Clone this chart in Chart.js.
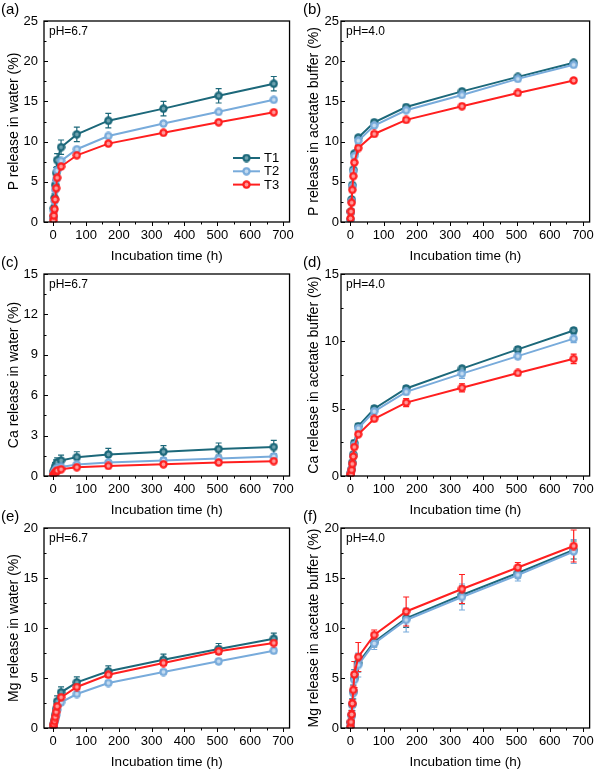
<!DOCTYPE html>
<html>
<head>
<meta charset="utf-8">
<script src="https://cdn.jsdelivr.net/npm/chart.js@4.4.0/dist/chart.umd.min.js"></script>
<style>
  body { margin:0; background:#fff; width:600px; height:773px; position:relative; overflow:hidden; }
  canvas { position:absolute; }
</style>
</head>
<body>
<script>
// sampling times (h)
var times = [0.5, 2, 4, 6, 9, 12, 24, 72, 168, 336, 504, 672];
var xTicks = [0, 100, 200, 300, 400, 500, 600, 700];
var seriesNames = ['T1', 'T2', 'T3'];

// (a) P release in water
var pWaterT1 = [0.6, 1.7, 3.0, 4.6, 6.1, 7.7, 9.3, 10.9, 12.6, 14.1, 15.7, 17.2];
var pWaterT2 = [0.5, 1.4, 2.6, 4.0, 5.3, 6.4, 7.6, 9.05, 10.7, 12.25, 13.7, 15.2];
var pWaterT3 = [0.2, 0.8, 1.6, 2.8, 4.2, 5.5, 6.9, 8.3, 9.75, 11.1, 12.4, 13.65];
var pWaterErrT1 = [0.3, 0.4, 0.5, 0.6, 0.7, 0.8, 0.9, 0.9, 0.9, 0.9, 0.9, 0.9];
var pWaterErrT2 = [0.2, 0.2, 0.2, 0.2, 0.2, 0.2, 0.2, 0.2, 0.2, 0.2, 0.2, 0.2];
var pWaterErrT3 = [0.2, 0.2, 0.2, 0.2, 0.2, 0.2, 0.2, 0.2, 0.2, 0.2, 0.2, 0.2];

// (b) P release in acetate buffer
var pAcetT1 = [0.3, 1.3, 2.8, 4.6, 6.5, 8.5, 10.5, 12.4, 14.3, 16.25, 18.05, 19.8];
var pAcetT2 = [0.25, 1.2, 2.6, 4.4, 6.3, 8.2, 10.1, 12.0, 13.9, 15.8, 17.8, 19.55];
var pAcetT3 = [0.45, 1.3, 2.4, 4.0, 5.7, 7.4, 9.2, 10.95, 12.7, 14.4, 16.05, 17.6];
var pAcetErrT1 = [0.2, 0.2, 0.2, 0.2, 0.2, 0.2, 0.25, 0.25, 0.25, 0.25, 0.25, 0.25];
var pAcetErrT2 = [0.2, 0.2, 0.2, 0.2, 0.2, 0.2, 0.25, 0.25, 0.25, 0.25, 0.25, 0.25];
var pAcetErrT3 = [0.2, 0.2, 0.2, 0.2, 0.2, 0.2, 0.25, 0.25, 0.25, 0.25, 0.25, 0.25];

// (c) Ca release in water
var caWaterT1 = [0.2, 0.35, 0.5, 0.7, 0.85, 1.0, 1.15, 1.4, 1.6, 1.8, 2.0, 2.15];
var caWaterT2 = [0.1, 0.2, 0.3, 0.4, 0.5, 0.6, 0.67, 0.85, 1.0, 1.15, 1.3, 1.45];
var caWaterT3 = [0.05, 0.1, 0.15, 0.25, 0.3, 0.4, 0.5, 0.65, 0.75, 0.87, 1.0, 1.1];
var caWaterErrT1 = [0.2, 0.25, 0.3, 0.3, 0.35, 0.35, 0.4, 0.4, 0.45, 0.45, 0.45, 0.5];
var caWaterErrT2 = [0.1, 0.1, 0.1, 0.1, 0.15, 0.15, 0.15, 0.15, 0.15, 0.15, 0.15, 0.15];
var caWaterErrT3 = [0.1, 0.1, 0.1, 0.1, 0.1, 0.1, 0.1, 0.1, 0.1, 0.1, 0.1, 0.1];

// (d) Ca release in acetate buffer
var caAcetT1 = [0.05, 0.2, 0.5, 1.0, 1.6, 2.45, 3.7, 5.0, 6.5, 7.97, 9.4, 10.8];
var caAcetT2 = [0.05, 0.2, 0.5, 0.9, 1.5, 2.3, 3.55, 4.8, 6.25, 7.6, 8.9, 10.2];
var caAcetT3 = [0.05, 0.15, 0.45, 0.9, 1.45, 2.15, 3.1, 4.25, 5.45, 6.55, 7.65, 8.7];
var caAcetErrT1 = [0.15, 0.15, 0.15, 0.15, 0.15, 0.2, 0.2, 0.2, 0.2, 0.2, 0.2, 0.2];
var caAcetErrT2 = [0.15, 0.15, 0.15, 0.15, 0.15, 0.2, 0.2, 0.2, 0.2, 0.35, 0.2, 0.3];
var caAcetErrT3 = [0.15, 0.15, 0.15, 0.15, 0.15, 0.15, 0.15, 0.15, 0.3, 0.3, 0.15, 0.35];

// (e) Mg release in water
var mgWaterT1 = [0.1, 0.4, 0.8, 1.3, 1.9, 2.67, 3.57, 4.57, 5.67, 6.83, 7.9, 8.93];
var mgWaterT2 = [0.1, 0.3, 0.55, 0.9, 1.3, 1.83, 2.57, 3.4, 4.5, 5.6, 6.67, 7.73];
var mgWaterT3 = [0.1, 0.35, 0.7, 1.1, 1.6, 2.17, 3.07, 4.1, 5.33, 6.5, 7.67, 8.5];
var mgWaterErrT1 = [0.3, 0.3, 0.4, 0.4, 0.5, 0.55, 0.55, 0.55, 0.55, 0.55, 0.55, 0.55];
var mgWaterErrT2 = [0.2, 0.2, 0.2, 0.2, 0.25, 0.25, 0.25, 0.25, 0.25, 0.25, 0.25, 0.25];
var mgWaterErrT3 = [0.2, 0.2, 0.2, 0.2, 0.25, 0.25, 0.25, 0.25, 0.25, 0.25, 0.25, 0.25];

// (f) Mg release in acetate buffer
var mgAcetT1 = [0.1, 0.55, 1.27, 2.35, 3.6, 4.95, 6.5, 8.6, 10.97, 13.3, 15.5, 17.8];
var mgAcetT2 = [0.1, 0.5, 1.2, 2.3, 3.5, 4.8, 6.3, 8.45, 10.8, 13.1, 15.3, 17.65];
var mgAcetT3 = [0.1, 0.6, 1.35, 2.45, 3.8, 5.35, 7.1, 9.3, 11.65, 13.9, 16.05, 18.2];
var mgAcetErrT1 = [0.3, 0.4, 0.5, 0.6, 0.7, 0.9, 0.9, 0.5, 0.9, 0.9, 0.5, 0.9];
var mgAcetErrT2 = [0.3, 0.4, 0.5, 0.6, 0.8, 1.0, 1.2, 0.6, 1.2, 1.3, 0.6, 1.2];
var mgAcetErrT3 = [0.4, 0.4, 0.4, 0.4, 0.4, 1.3, 1.45, 0.5, 1.45, 1.45, 0.5, 1.6];

var colors = ['#1c687a', '#78abdb', '#ff1f1f'];
var lights = ['#6fa3b0', '#c4dbf1', '#ff9a9a'];
var FONT = "'Liberation Sans', Arial, sans-serif";

// panel layout: column, plot top/bottom (page px)
var panels = [
  {tag:'(a)', col:0, top:21, bottom:222, ymax:25, ystep:5, ph:'pH=6.7', ytitle:'P release in water (%)',
   vals:[pWaterT1, pWaterT2, pWaterT3], errs:[pWaterErrT1, pWaterErrT2, pWaterErrT3], legend:true},
  {tag:'(b)', col:1, top:21, bottom:222, ymax:25, ystep:5, ph:'pH=4.0', ytitle:'P release in acetate buffer (%)',
   vals:[pAcetT1, pAcetT2, pAcetT3], errs:[pAcetErrT1, pAcetErrT2, pAcetErrT3]},
  {tag:'(c)', col:0, top:274, bottom:476, ymax:15, ystep:3, ph:'pH=6.7', ytitle:'Ca release in water (%)',
   vals:[caWaterT1, caWaterT2, caWaterT3], errs:[caWaterErrT1, caWaterErrT2, caWaterErrT3]},
  {tag:'(d)', col:1, top:274, bottom:476, ymax:15, ystep:5, ph:'pH=4.0', ytitle:'Ca release in acetate buffer (%)',
   vals:[caAcetT1, caAcetT2, caAcetT3], errs:[caAcetErrT1, caAcetErrT2, caAcetErrT3]},
  {tag:'(e)', col:0, top:528, bottom:728, ymax:20, ystep:5, ph:'pH=6.7', ytitle:'Mg release in water (%)',
   vals:[mgWaterT1, mgWaterT2, mgWaterT3], errs:[mgWaterErrT1, mgWaterErrT2, mgWaterErrT3]},
  {tag:'(f)', col:1, top:528, bottom:728, ymax:20, ystep:5, ph:'pH=4.0', ytitle:'Mg release in acetate buffer (%)',
   vals:[mgAcetT1, mgAcetT2, mgAcetT3], errs:[mgAcetErrT1, mgAcetErrT2, mgAcetErrT3]}
];

// circle marker with a lighter centre, like the origin symbols
function makeMarker(col, light){
  var c = document.createElement('canvas');
  c.width = 9; c.height = 9;
  var g = c.getContext('2d');
  g.fillStyle = col;
  g.beginPath(); g.arc(4.5, 4.5, 4.2, 0, 2*Math.PI); g.fill();
  g.fillStyle = light;
  g.beginPath(); g.arc(4.5, 4.5, 1.9, 0, 2*Math.PI); g.fill();
  return c;
}
var markers = colors.map(function(c, i){ return makeMarker(c, lights[i]); });

var decor = {
  id: 'decor',
  beforeDatasetsDraw: function(chart){
    // error bars
    var ctx = chart.ctx, xs = chart.scales.x, ys = chart.scales.y;
    chart.data.datasets.forEach(function(ds){
      ctx.save();
      ctx.strokeStyle = ds.borderColor;
      ctx.lineWidth = 1.2;
      ds.data.forEach(function(pt, j){
        var e = ds.errs[j];
        var x = xs.getPixelForValue(pt.x);
        var y1 = ys.getPixelForValue(pt.y + e), y2 = ys.getPixelForValue(Math.max(0, pt.y - e));
        ctx.beginPath();
        ctx.moveTo(x, y1); ctx.lineTo(x, y2);
        ctx.moveTo(x - 3, y1); ctx.lineTo(x + 3, y1);
        ctx.moveTo(x - 3, y2); ctx.lineTo(x + 3, y2);
        ctx.stroke();
      });
      ctx.restore();
    });
  },
  afterDraw: function(chart){
    var p = chart.options.plugins.decor;
    var ctx = chart.ctx, a = chart.chartArea, xs = chart.scales.x, ys = chart.scales.y;
    ctx.save();
    ctx.strokeStyle = '#000';
    ctx.lineWidth = 1;
    ctx.beginPath();
    xTicks.forEach(function(v){
      var x = Math.round(xs.getPixelForValue(v)) + 0.5;
      ctx.moveTo(x, a.bottom); ctx.lineTo(x, a.bottom + 4);
      if (v + 50 < 720) {
        var xm = Math.round(xs.getPixelForValue(v + 50)) + 0.5;
        ctx.moveTo(xm, a.bottom); ctx.lineTo(xm, a.bottom + 2.5);
      }
    });
    for (var v = 0; v <= p.ymax; v += p.ystep / 2) {
      var y = Math.round(ys.getPixelForValue(v)) + 0.5;
      var len = (Math.abs(v / p.ystep - Math.round(v / p.ystep)) < 1e-6) ? 4 : 2.5;
      ctx.moveTo(a.left, y); ctx.lineTo(a.left + len, y);
    }
    ctx.stroke();
    // frame
    ctx.lineWidth = 1.3;
    ctx.strokeRect(a.left, a.top, a.right - a.left, a.bottom - a.top);
    // panel tag and pH text
    ctx.fillStyle = '#000';
    ctx.textBaseline = 'middle';
    ctx.font = '15px ' + FONT;
    ctx.fillText(p.tag, p.col ? 3 : 1, a.top - 11);
    ctx.font = '12px ' + FONT;
    ctx.fillText(p.ph, a.left + 5, a.top + 11);
    // legend
    if (p.legend) {
      var lx = 233, ly = 158;
      ctx.font = '13px ' + FONT;
      seriesNames.forEach(function(name, i){
        var yy = ly + i * 13.3;
        ctx.strokeStyle = colors[i];
        ctx.lineWidth = 2;
        ctx.beginPath(); ctx.moveTo(lx, yy); ctx.lineTo(lx + 27, yy); ctx.stroke();
        ctx.drawImage(markers[i], lx + 13.5 - 4.5, yy - 4.5);
        ctx.fillStyle = '#000';
        ctx.fillText(name, lx + 31, yy + 0.5);
      });
    }
    ctx.restore();
  }
};

panels.forEach(function(p){
  var cv = document.createElement('canvas');
  var cTop = Math.round(p.top - 21);
  var plotH = p.bottom - p.top;
  var w = 300, h = plotH + 21 + 44;
  cv.width = w; cv.height = h;
  cv.style.left = (p.col * 300) + 'px';
  cv.style.top = cTop + 'px';
  cv.style.width = w + 'px'; cv.style.height = h + 'px';
  document.body.appendChild(cv);

  var yTicks = [];
  for (var v = 0; v <= p.ymax; v += p.ystep) yTicks.push(v);

  var datasets = p.vals.map(function(vals, i){
    return {
      label: seriesNames[i],
      data: times.map(function(t, j){ return {x: t, y: vals[j]}; }),
      errs: p.errs[i],
      borderColor: colors[i],
      backgroundColor: colors[i],
      borderWidth: 2,
      pointStyle: markers[i],
      pointRadius: 4.5,
      order: 2 - i,
      tension: 0
    };
  });

  new Chart(cv.getContext('2d'), {
    type: 'line',
    data: {datasets: datasets},
    plugins: [decor],
    options: {
      responsive: false,
      animation: false,
      devicePixelRatio: 1,
      layout: {padding: {top: 21, right: 4, left: 0, bottom: 0}},
      plugins: {
        legend: {display: false},
        tooltip: {enabled: false},
        decor: {tag: p.tag, col: p.col, ph: p.ph, ymax: p.ymax, ystep: p.ystep, legend: !!p.legend}
      },
      scales: {
        x: {
          type: 'linear', min: -28, max: 720,
          afterBuildTicks: function(s){ s.ticks = xTicks.map(function(v){ return {value: v}; }); },
          afterFit: function(s){ s.height = 44; },
          grid: {display: false, drawTicks: false},
          border: {display: false},
          ticks: {color: '#000', font: {size: 13, family: FONT}, padding: 6, maxRotation: 0, autoSkip: false},
          title: {display: true, text: 'Incubation time (h)', color: '#000', font: {size: 13.5, family: FONT}, padding: {top: 0, bottom: 2}}
        },
        y: {
          type: 'linear', min: 0, max: p.ymax,
          afterBuildTicks: function(s){ s.ticks = yTicks.map(function(v){ return {value: v}; }); },
          afterFit: function(s){ s.width = p.col ? 41 : 44; },
          grid: {display: false, drawTicks: false},
          border: {display: false},
          ticks: {color: '#000', font: {size: 13, family: FONT}, padding: p.col ? 2 : 6, autoSkip: false},
          title: {display: true, text: p.ytitle, color: '#000', font: {size: 14, family: FONT}, padding: {top: 6, bottom: 0}}
        }
      }
    }
  });
});
</script>
</body>
</html>
